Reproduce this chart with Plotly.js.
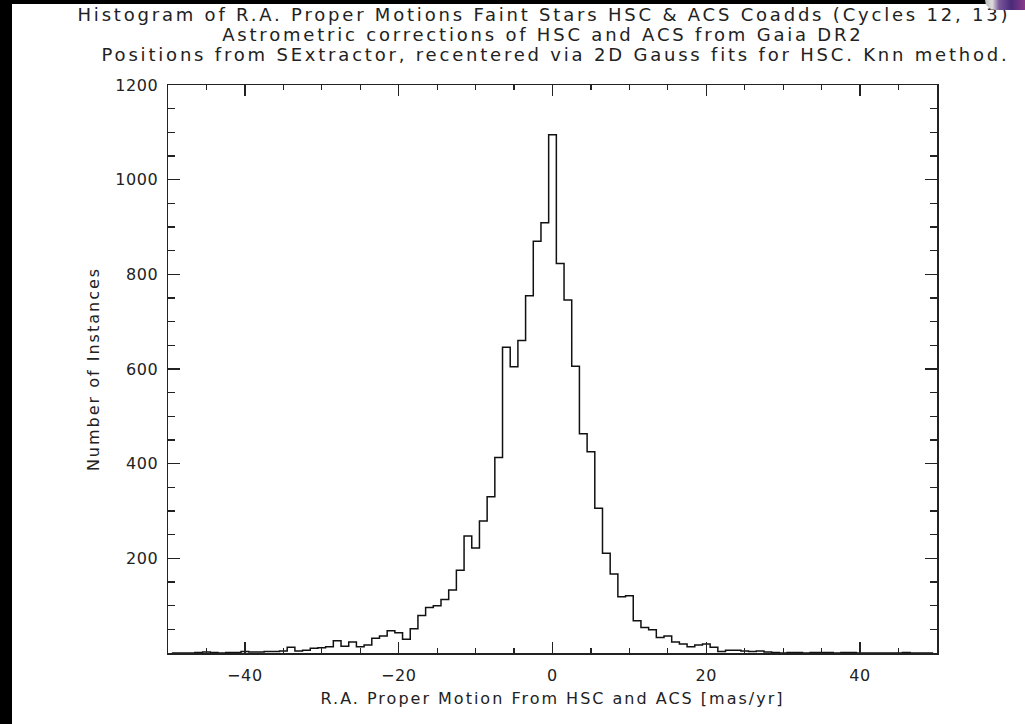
<!DOCTYPE html>
<html>
<head>
<meta charset="utf-8">
<script src="https://cdn.plot.ly/plotly-3.0.1.min.js"></script>
<style>
html,body{margin:0;padding:0;background:#fff;width:1025px;height:724px;overflow:hidden;}
#chart{position:absolute;left:0;top:0;width:1025px;height:724px;}
#leftband{position:absolute;left:0;top:0;width:12px;height:724px;background:#000;z-index:5;}
#topband{position:absolute;left:0;top:0;width:1025px;height:4px;background:#000;z-index:5;}
#blob{position:absolute;left:985px;top:0;width:40px;height:10px;background:linear-gradient(90deg,#bbb 0%,#ddd 18%,#7a5a9a 35%,#4a2a7a 65%,#8a3a8a 100%);border-bottom-left-radius:14px;z-index:6;}
#chart .gtitle, #chart .annotation-text {letter-spacing:2.8px;}
#chart .xtitle, #chart .ytitle {letter-spacing:2px;}
#chart .ytick text, #chart .xtick text {letter-spacing:0.6px;}
</style>
</head>
<body>
<div id="chart"></div>
<div id="leftband"></div>
<div id="topband"></div>
<div id="blob"></div>
<script>
// Bin centres (mas/yr), bin width 1
var binCenters = [
 -49,-48,-47,-46,-45,-44,-43,-42,-41,-40,
 -39,-38,-37,-36,-35,-34,-33,-32,-31,-30,
 -29,-28,-27,-26,-25,-24,-23,-22,-21,-20,
 -19,-18,-17,-16,-15,-14,-13,-12,-11,-10,
 -9,-8,-7,-6,-5,-4,-3,-2,-1,0,
 1,2,3,4,5,6,7,8,9,10,
 11,12,13,14,15,16,17,18,19,20,
 21,22,23,24,25,26,27,28,29,30,
 31,32,33,34,35,36,37,38,39,40,
 41,42,43,44,45,46,47,48,49
];
var binWidth = 1;
// Number of instances per bin
var counts = [
 0,0,0,1,2,1,0,1,1,3,
 2,2,3,3,4,12,4,6,10,11,
 13,26,14,23,13,17,31,36,47,43,
 29,51,79,96,100,113,133,175,247,222,
 279,330,413,646,605,660,755,870,909,1095,
 823,746,606,463,425,306,211,167,119,121,
 68,54,49,33,36,23,19,13,17,19,
 12,3,6,6,4,3,4,2,1,0,
 1,1,0,1,1,1,0,1,1,0,
 0,0,0,0,0,1,0,0,0
];
var xTickVals = [-40,-20,0,20,40];
var yTickVals = [200,400,600,800,1000,1200];
var yTickText = ['200','400','600','800','1000','1200'];
var titleLines = [
 'Histogram of R.A. Proper Motions Faint Stars HSC & ACS Coadds (Cycles 12, 13)',
 'Astrometric corrections of HSC and ACS from Gaia DR2',
 'Positions from SExtractor, recentered via 2D Gauss fits for HSC. Knn method.'
];
var xTitle = 'R.A. Proper Motion From HSC and ACS [mas/yr]';
var yTitle = 'Number of Instances';

// step outline: left edges + final right edge
var stepX = [], stepY = [];
for (var i = 0; i < binCenters.length; i++) {
  stepX.push(binCenters[i] - binWidth/2);
  stepY.push(counts[i]);
}
stepX.push(binCenters[binCenters.length-1] + binWidth/2);
stepY.push(counts[counts.length-1]);

var ink = '#222';
var trace = {
  type:'scatter', mode:'lines', x:stepX, y:stepY,
  line:{shape:'hv', color:'#111', width:1.5},
  hoverinfo:'x+y'
};

var layout = {
  width:1025, height:724,
  margin:{l:167.5, r:88, t:85, b:71},
  paper_bgcolor:'#fff', plot_bgcolor:'#fff',
  showlegend:false,
  font:{family:'DejaVu Sans', color:ink},
  title:{text:titleLines[0], font:{size:18, color:ink}, xref:'container', x:0.5307, xanchor:'center', yref:'container', y:0.9791, yanchor:'middle'},
  annotations:[
    {text:titleLines[1], xref:'paper', yref:'paper', x:0.488, y:1.0882, xanchor:'center', yanchor:'middle', showarrow:false, font:{size:18, color:ink}},
    {text:titleLines[2], xref:'paper', yref:'paper', x:0.5036, y:1.0530, xanchor:'center', yanchor:'middle', showarrow:false, font:{size:18, color:ink}}
  ],
  xaxis:{
    range:[-50,50], tickmode:'array', tickvals:xTickVals,
    ticks:'inside', ticklen:11, tickwidth:1.3, tickcolor:ink,
    showline:true, linecolor:ink, linewidth:1.5, mirror:'ticks',
    showgrid:false, zeroline:false, tickfont:{size:16, color:ink}, ticklabelstandoff:7,
    minor:{tickmode:'linear', tick0:0, dtick:5, ticks:'inside', ticklen:5, tickwidth:1.3, tickcolor:ink, showgrid:false},
    title:{text:xTitle, font:{size:16, color:ink}, standoff:9}
  },
  yaxis:{
    range:[0,1200], tickmode:'array', tickvals:yTickVals, ticktext:yTickText,
    ticks:'inside', ticklen:12, tickwidth:1.3, tickcolor:ink,
    showline:true, linecolor:ink, linewidth:1.5, mirror:'ticks',
    showgrid:false, zeroline:false, tickfont:{size:16, color:ink}, ticklabelstandoff:5,
    minor:{tickmode:'linear', tick0:0, dtick:50, ticks:'inside', ticklen:7, tickwidth:1.3, tickcolor:ink, showgrid:false},
    title:{text:yTitle, font:{size:16, color:ink}, standoff:14}
  }
};

Plotly.newPlot('chart', [trace], layout, {displayModeBar:false, staticPlot:true});
</script>
</body>
</html>
